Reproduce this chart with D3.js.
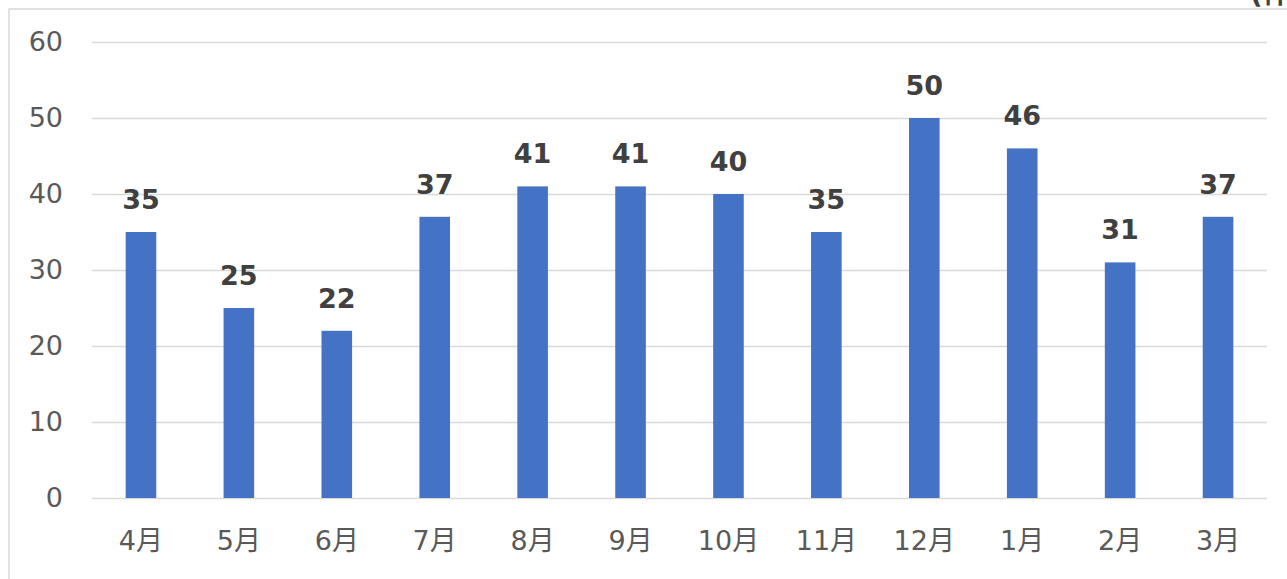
<!DOCTYPE html>
<html>
<head>
<meta charset="utf-8">
<script src="https://cdn.jsdelivr.net/npm/d3@7"></script>
<style>
  html, body { margin: 0; padding: 0; background: #fff; }
  svg { display: block; }
</style>
</head>
<body>
<svg id="chart" width="1287" height="579"></svg>
<script>
// Monthly counts, April through March
const months = ["4月", "5月", "6月", "7月", "8月", "9月", "10月", "11月", "12月", "1月", "2月", "3月"];
const counts = [35, 25, 22, 37, 41, 41, 40, 35, 50, 46, 31, 37];
const yTicks = [0, 10, 20, 30, 40, 50, 60];
const unitLabel = "(件)";

const svg = d3.select("#chart");
const W = 1287, H = 579;
const plot = { left: 92, right: 1267, top: 42, bottom: 498 };
const fontFamily = "'DejaVu Sans', 'Noto Sans CJK JP', sans-serif";

// Chart frame
svg.append("rect")
  .attr("x", 9).attr("y", 9)
  .attr("width", W + 20).attr("height", H + 20)
  .attr("fill", "#fff")
  .attr("stroke", "#d9d9d9")
  .attr("stroke-width", 1.5);

// Unit label, partly above the frame
svg.append("text")
  .attr("x", 1302).attr("y", 3)
  .attr("text-anchor", "end")
  .attr("font-family", fontFamily)
  .attr("font-weight", "bold")
  .attr("font-size", 27)
  .attr("fill", "#404040")
  .text(unitLabel);

const x = d3.scaleBand()
  .domain(months)
  .range([plot.left, plot.right])
  .paddingInner(0)
  .paddingOuter(0);

const y = d3.scaleLinear()
  .domain([0, 60])
  .range([plot.bottom, plot.top]);

// Horizontal gridlines and y tick labels
const yAxis = d3.axisLeft(y)
  .tickValues(yTicks)
  .tickSize(-(plot.right - plot.left))
  .tickPadding(29);

const gy = svg.append("g")
  .attr("transform", `translate(${plot.left},0)`)
  .call(yAxis);
gy.select(".domain").remove();
gy.selectAll(".tick line")
  .attr("stroke", "#d9d9d9")
  .attr("stroke-width", 1.5);
gy.selectAll(".tick text")
  .attr("font-family", fontFamily)
  .attr("font-size", 27)
  .attr("fill", "#595959");

// Month labels
const xAxis = d3.axisBottom(x).tickSize(0).tickPadding(33);
const gx = svg.append("g")
  .attr("transform", `translate(0,${plot.bottom})`)
  .call(xAxis);
gx.select(".domain").remove();
gx.selectAll(".tick text")
  .attr("font-family", fontFamily)
  .attr("font-size", 27)
  .attr("fill", "#595959");

// Bars
const barW = x.bandwidth() * 0.3125;
svg.append("g")
  .selectAll("rect")
  .data(counts)
  .join("rect")
  .attr("x", (d, i) => x(months[i]) + (x.bandwidth() - barW) / 2)
  .attr("y", d => y(d))
  .attr("width", barW)
  .attr("height", d => y(0) - y(d))
  .attr("fill", "#4472c4");

// Value labels above bars
svg.append("g")
  .selectAll("text")
  .data(counts)
  .join("text")
  .attr("x", (d, i) => x(months[i]) + x.bandwidth() / 2)
  .attr("y", d => y(d) - 23)
  .attr("text-anchor", "middle")
  .attr("font-family", fontFamily)
  .attr("font-weight", "bold")
  .attr("font-size", 27)
  .attr("fill", "#404040")
  .text(d => d);
</script>
</body>
</html>
